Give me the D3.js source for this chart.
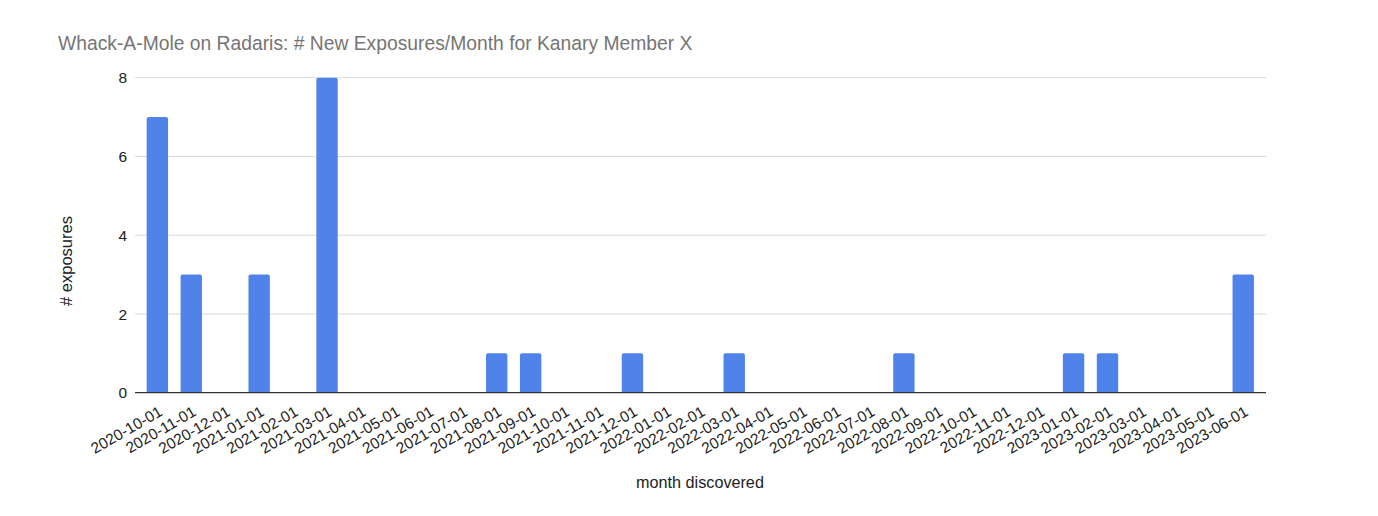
<!DOCTYPE html>
<html><head><meta charset="utf-8">
<script src="https://cdn.jsdelivr.net/npm/d3@7"></script>
<style>body{margin:0;background:#fff;} text{font-family:"Liberation Sans",Arial,sans-serif;}</style>
</head><body>
<svg id="c" width="1378" height="516"></svg>
<script>
const months = ["2020-10-01","2020-11-01","2020-12-01","2021-01-01","2021-02-01","2021-03-01","2021-04-01","2021-05-01","2021-06-01","2021-07-01","2021-08-01","2021-09-01","2021-10-01","2021-11-01","2021-12-01","2022-01-01","2022-02-01","2022-03-01","2022-04-01","2022-05-01","2022-06-01","2022-07-01","2022-08-01","2022-09-01","2022-10-01","2022-11-01","2022-12-01","2023-01-01","2023-02-01","2023-03-01","2023-04-01","2023-05-01","2023-06-01"];
const exposures = [7,3,0,3,0,8,0,0,0,0,1,1,0,0,1,0,0,1,0,0,0,0,1,0,0,0,0,1,1,0,0,0,3];
const yTicks = [0,2,4,6,8];
const title = "Whack-A-Mole on Radaris: # New Exposures/Month for Kanary Member X";
const xTitle = "month discovered";
const yTitle = "# exposures";

const svg = d3.select("#c");
const plotL = 135, plotR = 1266, plotTop = 77.7, plotBottom = 392.7;
const x = d3.scaleBand().domain(months).range([140.4, 1260.2]).paddingInner(0.37).paddingOuter(0.185);
const y = d3.scaleLinear().domain([0, 8]).range([plotBottom, plotTop]);

svg.append("text").attr("x", 58).attr("y", 49.5).attr("font-size", 19.3).attr("fill", "#757575").text(title);

// grid
svg.append("g").selectAll("line").data(yTicks.filter(d => d > 0)).join("line")
  .attr("x1", plotL).attr("x2", plotR).attr("y1", d => y(d)).attr("y2", d => y(d))
  .attr("stroke", "#d9d9d9").attr("stroke-width", 1);

// y labels
svg.append("g").selectAll("text").data(yTicks).join("text")
  .attr("x", 127).attr("y", d => y(d)).attr("dy", "0.36em").attr("text-anchor", "end")
  .attr("font-size", 15.5).attr("fill", "#222").text(d => d);

// bars with rounded top
const r = 2;
svg.append("g").selectAll("path").data(months.map((m, i) => ({m, v: exposures[i]})).filter(d => d.v > 0)).join("path")
  .attr("fill", "#5083e9")
  .attr("d", d => {
    const x0 = x(d.m), w = x.bandwidth(), y0 = y(d.v), y1 = y(0);
    return `M${x0},${y1}V${y0 + r}Q${x0},${y0} ${x0 + r},${y0}H${x0 + w - r}Q${x0 + w},${y0} ${x0 + w},${y0 + r}V${y1}Z`;
  });

// baseline
svg.append("line").attr("x1", plotL).attr("x2", plotR).attr("y1", plotBottom).attr("y2", plotBottom)
  .attr("stroke", "#333").attr("stroke-width", 1.2);

// x labels
svg.append("g").selectAll("text").data(months).join("text")
  .attr("transform", d => `translate(${x(d) + x.bandwidth() / 2 + 6},${plotBottom + 22}) rotate(-30)`)
  .attr("text-anchor", "end").attr("font-size", 15.5).attr("fill", "#222").text(d => d);

svg.append("text").attr("x", 700).attr("y", 488).attr("text-anchor", "middle").attr("font-size", 16.2).attr("fill", "#222").text(xTitle);
svg.append("text").attr("transform", "translate(72,261) rotate(-90)").attr("text-anchor", "middle").attr("font-size", 16.5).attr("fill", "#222").text(yTitle);
</script>
</body></html>
